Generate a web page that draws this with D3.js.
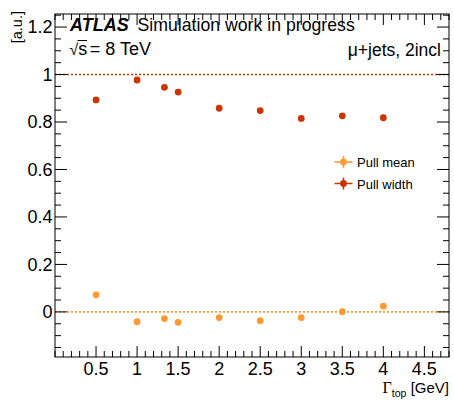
<!DOCTYPE html>
<html><head><meta charset="utf-8">
<script src="https://cdn.jsdelivr.net/npm/d3@7"></script>
<style>body{margin:0;background:#fff}svg{display:block}text{font-family:"Liberation Sans",Arial,sans-serif}</style>
</head><body><svg id="c" width="454" height="403"></svg>
<script>
const widths = [0.5, 1.0, 1.333, 1.5, 2.0, 2.5, 3.0, 3.5, 4.0];
const pullMean = [0.072, -0.041, -0.028, -0.044, -0.024, -0.037, -0.024, 0.001, 0.024];
const pullMeanErr = [0.012, 0.012, 0.012, 0.012, 0.012, 0.011, 0.011, 0.011, 0.011];
const pullWidth = [0.893, 0.977, 0.946, 0.926, 0.858, 0.848, 0.815, 0.826, 0.818];
const pullWidthErr = [0.008, 0.008, 0.008, 0.008, 0.008, 0.008, 0.008, 0.008, 0.008];
const xTicks = [0.5, 1, 1.5, 2, 2.5, 3, 3.5, 4, 4.5];
const yTicks = [0, 0.2, 0.4, 0.6, 0.8, 1, 1.2];

const colMean = "#ff9933", colWidth = "#cc3300";
const L = 55, R = 449, T = 14, B = 357;
const svg = d3.select("#c");
const x = d3.scaleLinear().domain([0, 4.8]).range([L, R]);
const y = d3.scaleLinear().domain([-0.19, 1.255]).range([B, T]);

// reference lines
svg.append("line").attr("x1", L).attr("x2", R).attr("y1", y(1)).attr("y2", y(1))
  .attr("stroke", colWidth).attr("stroke-width", 1.6).attr("stroke-dasharray", "2,2");
svg.append("line").attr("x1", L).attr("x2", R).attr("y1", y(0)).attr("y2", y(0))
  .attr("stroke", colMean).attr("stroke-width", 1.6).attr("stroke-dasharray", "2,2");

// frame
svg.append("rect").attr("x", L).attr("y", T).attr("width", R - L).attr("height", B - T)
  .attr("fill", "none").attr("stroke", "#000").attr("stroke-width", 1);

// ticks
const xMinor = d3.range(0, 4.81, 0.1).map(v => +v.toFixed(2));
const yMinor = d3.range(-0.15, 1.26, 0.05).map(v => +v.toFixed(2));
const isMajX = v => Math.abs(v * 2 - Math.round(v * 2)) < 1e-6 && v > 0;
const isMajY = v => Math.abs(v * 5 - Math.round(v * 5)) < 1e-6;
const tg = svg.append("g").attr("stroke", "#000").attr("stroke-width", 1);
xMinor.forEach(v => {
  const len = isMajX(v) ? 11 : 6; const px = x(v);
  tg.append("line").attr("x1", px).attr("x2", px).attr("y1", B).attr("y2", B - len);
  tg.append("line").attr("x1", px).attr("x2", px).attr("y1", T).attr("y2", T + len);
});
yMinor.forEach(v => {
  const len = isMajY(v) ? 12 : 6; const py = y(v);
  tg.append("line").attr("x1", L).attr("x2", L + len).attr("y1", py).attr("y2", py);
  tg.append("line").attr("x1", R).attr("x2", R - len).attr("y1", py).attr("y2", py);
});

// tick labels
svg.append("g").selectAll("text").data(xTicks).join("text")
  .attr("x", d => x(d)).attr("y", 375).attr("text-anchor", "middle")
  .attr("font-size", 18).text(d => d3.format("")(d));
svg.append("g").selectAll("text").data(yTicks).join("text")
  .attr("x", 52.5).attr("y", d => y(d) + 6.4).attr("text-anchor", "end")
  .attr("font-size", 18).text(d => d3.format("")(d));

// axis titles
const xt = svg.append("text").attr("x", R).attr("y", 393).attr("text-anchor", "end").attr("font-size", 15);
xt.append("tspan").attr("font-family", "Liberation Serif, serif").attr("font-size", 16).text("\u0393");
xt.append("tspan").attr("font-size", 10.5).attr("dy", 4).text("top");
xt.append("tspan").attr("dy", -4).text(" [GeV]");
svg.append("text").attr("transform", `translate(21.5,${T - 3}) rotate(-90)`).attr("text-anchor", "end")
  .attr("font-size", 14.5).text("[a.u.]");

// labels
svg.append("text").attr("x", 70).attr("y", 31).attr("font-size", 18)
  .attr("font-weight", "bold").attr("font-style", "italic").text("ATLAS");
svg.append("text").attr("x", 137.5).attr("y", 31).attr("font-size", 17.7).text("Simulation work in progress");
const sq = svg.append("text").attr("x", 69.5).attr("y", 55).attr("font-size", 18);
sq.append("tspan").attr("font-size", 16).text("\u221A");
sq.append("tspan").text("s");
sq.append("tspan").attr("dx", 2.5).text("= 8 TeV");
svg.append("line").attr("x1", 77.5).attr("x2", 87).attr("y1", 40.5).attr("y2", 40.5)
  .attr("stroke", "#000").attr("stroke-width", 1);
svg.append("text").attr("x", 441).attr("y", 56).attr("text-anchor", "end").attr("font-size", 17.5).text("\u03BC+jets, 2incl");

// data
function series(vals, errs, col) {
  const g = svg.append("g");
  g.selectAll("line").data(vals).join("line")
    .attr("x1", (d, i) => x(widths[i])).attr("x2", (d, i) => x(widths[i]))
    .attr("y1", (d, i) => y(d - errs[i])).attr("y2", (d, i) => y(d + errs[i]))
    .attr("stroke", col).attr("stroke-width", 1.5);
  g.selectAll("circle").data(vals).join("circle")
    .attr("cx", (d, i) => x(widths[i])).attr("cy", d => y(d)).attr("r", 3.4).attr("fill", col);
}
series(pullWidth, pullWidthErr, colWidth);
series(pullMean, pullMeanErr, colMean);

// legend
const leg = [["Pull mean", colMean], ["Pull width", colWidth]];
leg.forEach(([t, c], i) => {
  const ly = 162 + i * 21.5, lx = 343.5;
  svg.append("line").attr("x1", lx - 9).attr("x2", lx + 9).attr("y1", ly).attr("y2", ly).attr("stroke", c).attr("stroke-width", 1.5);
  svg.append("line").attr("x1", lx).attr("x2", lx).attr("y1", ly - 6).attr("y2", ly + 6).attr("stroke", c).attr("stroke-width", 1.5);
  svg.append("circle").attr("cx", lx).attr("cy", ly).attr("r", 3.4).attr("fill", c);
  svg.append("text").attr("x", 357).attr("y", ly + 5).attr("font-size", 13).text(t);
});
</script></body></html>
